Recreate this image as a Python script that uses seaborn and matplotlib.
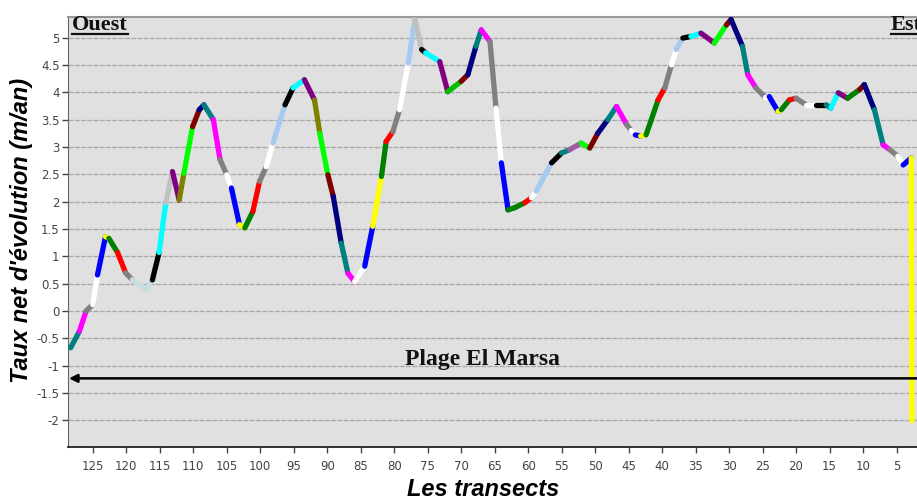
import numpy as np
import pandas as pd
import matplotlib
matplotlib.use("Agg")
import matplotlib.pyplot as plt
from matplotlib.lines import Line2D
import seaborn as sns

# ---- data ----
transects = [128.3, 127.0, 126.0, 125.0, 124.3, 123.1, 122.6, 121.3, 120.1, 119.1,
             117.1, 116.1, 115.1, 114.1, 113.1, 112.1, 111.4, 110.1, 109.1, 108.4,
             107.0, 106.0, 105.0, 104.3, 103.1, 102.3, 101.1, 100.1, 99.1, 98.1,
             96.3, 95.1, 93.4, 91.9, 91.1, 89.9, 89.1, 87.9, 86.9, 85.9,
             84.4, 83.2, 81.9, 81.2, 80.2, 79.2, 77.9, 76.9, 75.9, 75.3,
             73.2, 72.0, 70.0, 69.0, 67.8, 67.0, 65.7, 64.8, 64.0, 63.0,
             62.0, 60.5, 59.5, 58.8, 56.5, 55.0, 53.8, 52.1, 50.8, 49.6,
             48.1, 46.8, 45.3, 44.6, 44.0, 43.2, 42.4, 41.6, 40.6, 39.6,
             38.6, 37.9, 36.9, 35.7, 34.2, 32.2, 30.4, 29.7, 28.0, 27.2,
             26.0, 24.7, 24.0, 22.7, 22.2, 21.0, 20.0, 18.5, 17.0, 15.5,
             14.8, 13.7, 12.3, 10.5, 9.8, 8.3, 7.0, 6.0, 4.8, 4.0,
             2.8, 2.7]
taux = [-0.67, -0.37, 0.00, 0.12, 0.66, 1.36, 1.33, 1.07, 0.70, 0.57,
        0.39, 0.57, 1.07, 1.98, 2.55, 2.03, 2.52, 3.37, 3.68, 3.77,
        3.50, 2.77, 2.49, 2.25, 1.58, 1.52, 1.82, 2.37, 2.64, 3.07,
        3.77, 4.08, 4.23, 3.86, 3.25, 2.49, 2.10, 1.24, 0.69, 0.54,
        0.82, 1.55, 2.46, 3.10, 3.28, 3.68, 4.53, 5.33, 4.78, 4.72,
        4.56, 4.01, 4.20, 4.32, 4.84, 5.14, 4.93, 3.71, 2.71, 1.85,
        1.89, 1.98, 2.07, 2.19, 2.71, 2.89, 2.95, 3.07, 2.98, 3.25,
        3.50, 3.74, 3.41, 3.30, 3.22, 3.20, 3.22, 3.50, 3.86, 4.08,
        4.50, 4.78, 4.99, 5.02, 5.08, 4.90, 5.23, 5.33, 4.84, 4.32,
        4.08, 3.92, 3.92, 3.65, 3.68, 3.86, 3.89, 3.77, 3.77, 3.77,
        3.71, 3.99, 3.89, 4.05, 4.14, 3.68, 3.04, 2.95, 2.83, 2.67,
        2.80, -2.00]
segment_colors = [
    "#008080", "#ff00ff", "#808080", "#ffffff", "#0000ff", "#ffff00", "#008000", "#ff0000", "#808080", "#c8dde2",
    "#c8dde2", "#000000", "#00ffff", "#c0c0c0", "#800080", "#808000", "#00ff00", "#800000", "#000080", "#008080",
    "#ff00ff", "#808080", "#ffffff", "#0000ff", "#ffff00", "#008000", "#ff0000", "#808080", "#ffffff", "#a6caf0",
    "#000000", "#00ffff", "#800080", "#808000", "#00ff00", "#800000", "#000080", "#008080", "#ff00ff", "#ffffff",
    "#0000ff", "#ffff00", "#008000", "#ff0000", "#808080", "#ffffff", "#a6caf0", "#c0c0c0", "#000000", "#00ffff",
    "#800080", "#00c000", "#800000", "#000080", "#008080", "#ff00ff", "#808080", "#ffffff", "#0000ff", "#008000",
    "#008000", "#ff0000", "#ffffff", "#a6caf0", "#000000", "#008080", "#a05ca0", "#00ff00", "#800000", "#000080",
    "#008080", "#ff00ff", "#808080", "#ffffff", "#0000ff", "#ffff00", "#008000", "#008000", "#ff0000", "#808080",
    "#ffffff", "#a6caf0", "#000000", "#00ffff", "#800080", "#00ff00", "#800000", "#000080", "#008080", "#ff00ff",
    "#808080", "#ffffff", "#0000ff", "#ffff00", "#008000", "#ff0000", "#808080", "#ffffff", "#000000", "#008080",
    "#00ffff", "#800080", "#008000", "#800000", "#000080", "#008080", "#ff00ff", "#808080", "#ffffff", "#0000ff",
    "#ffff00"]
x_ticks = [125, 120, 115, 110, 105, 100, 95, 90, 85, 80, 75, 70, 65, 60, 55, 50, 45, 40, 35, 30, 25, 20, 15, 10, 5]
y_ticks = [-2, -1.5, -1, -0.5, 0, 0.5, 1, 1.5, 2, 2.5, 3, 3.5, 4, 4.5, 5]

# ---- long table: one two-point segment per colour ----
rows = []
for i, col in enumerate(segment_colors):
    seg = f"s{i:03d}"
    rows.append((seg, transects[i], taux[i]))
    rows.append((seg, transects[i + 1], taux[i + 1]))
df = pd.DataFrame(rows, columns=["segment", "transect", "taux"])
palette = {f"s{i:03d}": c for i, c in enumerate(segment_colors)}

plt.rcParams["axes.unicode_minus"] = False
W, H = 917, 501
fig = plt.figure(figsize=(W / 100, H / 100), dpi=100)
ax = fig.add_axes([68 / W, (H - 447.3) / H, 862 / W, 430 / H])
ax.set_facecolor("#e0e0e0")

sns.lineplot(data=df, x="transect", y="taux", hue="segment", palette=palette,
             estimator=None, sort=False, legend=False, linewidth=3.8,
             solid_capstyle="round", solid_joinstyle="round", ax=ax, zorder=3)

ax.set_xlim(128.7, 0.0)
ax.set_ylim(-2.49, 5.37)
ax.set_xticks(x_ticks)
ax.set_xticklabels([f"{v:g}" for v in x_ticks])
ax.set_yticks(y_ticks)
ax.set_yticklabels([f"{v:g}" for v in y_ticks])
ax.tick_params(axis="both", labelsize=8.5, colors="#444444", length=4, width=1)
ax.tick_params(axis="x", pad=5)
ax.tick_params(axis="y", pad=2)
ax.yaxis.grid(True, color="#a8a8a8", linestyle=(0, (4, 1)), linewidth=0.9, zorder=0)
ax.set_axisbelow(True)
ax.spines["right"].set_visible(False)
ax.spines["top"].set_color("#999999")
ax.spines["top"].set_linewidth(1.5)
ax.spines["left"].set_color("#666666")
ax.spines["bottom"].set_color("#111111")
ax.spines["bottom"].set_linewidth(1.2)

ax.set_xlabel("")
ax.set_ylabel("")
fig.text(22 / W, 1 - 230 / H, "Taux net d'évolution (m/an)", rotation=90,
         ha="center", va="center", fontsize=17, fontweight="bold", fontstyle="italic",
         family="Liberation Sans")
fig.text(483 / W, 1 - 490 / H, "Les transects", ha="center", va="center",
         fontsize=17, fontweight="bold", fontstyle="italic", family="Liberation Sans")

# beach extent arrow
ax.annotate("", xy=(128.55, -1.23), xytext=(-3, -1.23),
            arrowprops=dict(arrowstyle="-|>", color="black", lw=1.8,
                            mutation_scale=12, shrinkA=0, shrinkB=0),
            annotation_clip=False, zorder=4)
ax.text(66.8, -0.89, "Plage El Marsa", ha="center", va="center", fontsize=17,
        fontweight="bold", family="Liberation Serif", color="#111111", zorder=5)

t1 = fig.text(72 / W, 1 - 30 / H, "Ouest", ha="left", va="baseline", fontsize=16,
              fontweight="bold", family="Liberation Serif", color="#111111")
t2 = fig.text(891 / W, 1 - 30 / H, "Est", ha="left", va="baseline", fontsize=16,
              fontweight="bold", family="Liberation Serif", color="#111111")
fig.canvas.draw()
r = fig.canvas.get_renderer()
for t in (t1, t2):
    bb = t.get_window_extent(renderer=r)
    yline = (1 - 33.5 / H)
    fig.add_artist(Line2D([bb.x0 / W, bb.x1 / W], [yline, yline],
                          transform=fig.transFigure, color="#111111", lw=1.6))

fig.savefig("out.png", dpi=100)
